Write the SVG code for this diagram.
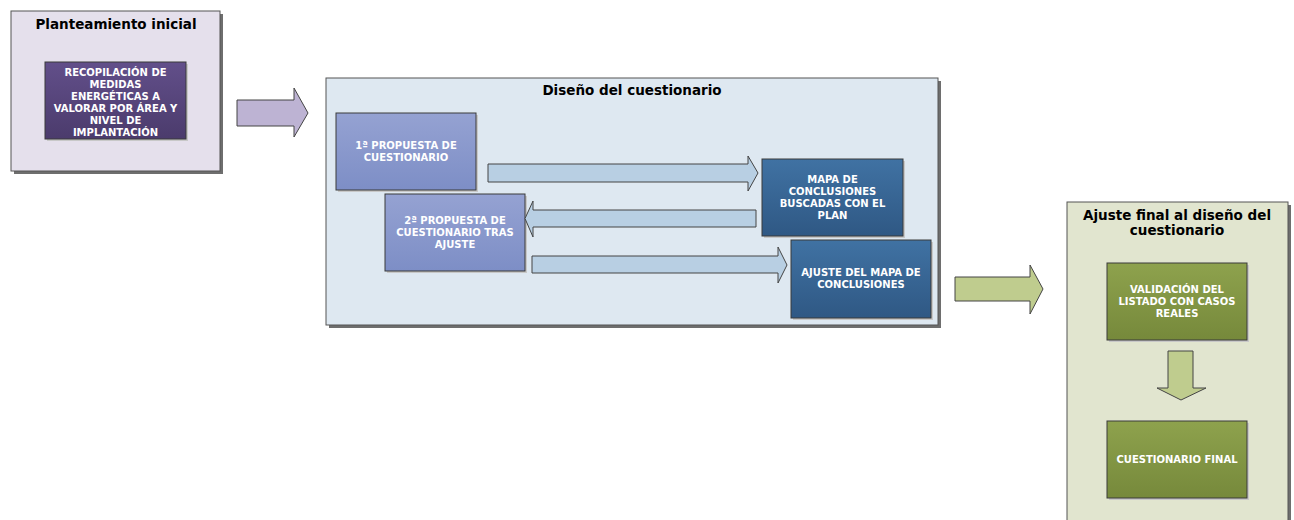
<svg xmlns="http://www.w3.org/2000/svg" width="1294" height="520" viewBox="0 0 1294 520">
<defs>
<linearGradient id="gPurple" x1="0" y1="0" x2="0" y2="1"><stop offset="0" stop-color="#624f8a"/><stop offset="1" stop-color="#4b3b6c"/></linearGradient>
<linearGradient id="gLight" x1="0" y1="0" x2="0" y2="1"><stop offset="0" stop-color="#95a2d2"/><stop offset="1" stop-color="#7d8ec6"/></linearGradient>
<linearGradient id="gDark" x1="0" y1="0" x2="0" y2="1"><stop offset="0" stop-color="#4072a3"/><stop offset="1" stop-color="#2f5884"/></linearGradient>
<linearGradient id="gGreen" x1="0" y1="0" x2="0" y2="1"><stop offset="0" stop-color="#8ea24d"/><stop offset="1" stop-color="#76893b"/></linearGradient>
</defs>
<style>
.cont{stroke:#555;stroke-width:1}
.csh{fill:#6e6e6e}
.node{stroke:#3a3a3a;stroke-width:1}
.nsh{fill:#c8c8c8}
.title{font-family:"DejaVu Sans",Verdana,sans-serif;font-weight:bold;font-size:13.5px;fill:#000;text-anchor:middle}
.nt{font-family:"DejaVu Sans",Verdana,sans-serif;font-weight:bold;font-size:10px;fill:#fff;text-anchor:middle}
.arr{stroke:#444;stroke-width:1}
</style>
<rect width="1294" height="520" fill="#fff"/>

<g id="planteamiento">
<rect class="csh" x="14" y="14" width="209" height="160"/>
<rect class="cont" x="11" y="11" width="209" height="160" fill="#e5e0ec"/>
<text class="title" x="116" y="29">Planteamiento inicial</text>
</g>
<g id="recopilacion">
<rect class="nsh" x="47" y="64" width="141" height="77"/>
<rect class="node" x="45" y="62" width="141" height="77" fill="url(#gPurple)"/>
<text class="nt" x="115.5" y="75.5">RECOPILACIÓN DE</text>
<text class="nt" x="115.5" y="87.5">MEDIDAS</text>
<text class="nt" x="115.5" y="99.5">ENERGÉTICAS A</text>
<text class="nt" x="115.5" y="111.5">VALORAR POR ÁREA Y</text>
<text class="nt" x="115.5" y="123.5">NIVEL DE</text>
<text class="nt" x="115.5" y="135.5">IMPLANTACIÓN</text>
</g>

<g id="diseno">
<rect class="csh" x="329" y="81" width="612" height="247"/>
<rect class="cont" x="326" y="78" width="612" height="247" fill="#dee8f1"/>
<text class="title" x="632" y="95">Diseño del cuestionario</text>
</g>
<g id="propuesta1">
<rect class="nsh" x="338" y="115" width="140" height="77"/>
<rect class="node" x="336" y="113" width="140" height="77" fill="url(#gLight)"/>
<text class="nt" x="406" y="148.5">1ª PROPUESTA DE</text>
<text class="nt" x="406" y="160.5">CUESTIONARIO</text>
</g>
<g id="propuesta2">
<rect class="nsh" x="387" y="196" width="140" height="77"/>
<rect class="node" x="385" y="194" width="140" height="77" fill="url(#gLight)"/>
<text class="nt" x="455" y="223.5">2ª PROPUESTA DE</text>
<text class="nt" x="455" y="235.5">CUESTIONARIO TRAS</text>
<text class="nt" x="455" y="247.5">AJUSTE</text>
</g>
<g id="mapa">
<rect class="nsh" x="764" y="161" width="141" height="77"/>
<rect class="node" x="762" y="159" width="141" height="77" fill="url(#gDark)"/>
<text class="nt" x="832.5" y="182.5">MAPA DE</text>
<text class="nt" x="832.5" y="194.5">CONCLUSIONES</text>
<text class="nt" x="832.5" y="206.5">BUSCADAS CON EL</text>
<text class="nt" x="832.5" y="218.5">PLAN</text>
</g>
<g id="ajusteMapa">
<rect class="nsh" x="793" y="242" width="140" height="78"/>
<rect class="node" x="791" y="240" width="140" height="78" fill="url(#gDark)"/>
<text class="nt" x="861" y="275.5">AJUSTE DEL MAPA DE</text>
<text class="nt" x="861" y="287.5">CONCLUSIONES</text>
</g>

<g id="ajusteFinal">
<rect class="csh" x="1070" y="205" width="221" height="330"/>
<rect class="cont" x="1067" y="202" width="221" height="330" fill="#e1e5cf"/>
<text class="title" x="1177" y="220">Ajuste final al diseño del</text>
<text class="title" x="1177" y="235">cuestionario</text>
</g>
<g id="validacion">
<rect class="nsh" x="1109" y="265" width="140" height="77"/>
<rect class="node" x="1107" y="263" width="140" height="77" fill="url(#gGreen)"/>
<text class="nt" x="1177" y="292.5">VALIDACIÓN DEL</text>
<text class="nt" x="1177" y="304.5">LISTADO CON CASOS</text>
<text class="nt" x="1177" y="316.5">REALES</text>
</g>
<g id="final">
<rect class="nsh" x="1109" y="423" width="140" height="77"/>
<rect class="node" x="1107" y="421" width="140" height="77" fill="url(#gGreen)"/>
<text class="nt" x="1177" y="463">CUESTIONARIO FINAL</text>
</g>

<g id="connectors">
<polygon class="arr" fill="#bdb3d3" points="237,100 294,100 294,88 308,113 294,137 294,126 237,126"/>
<polygon class="arr" fill="#b8cfe3" points="488,164 748,164 748,156 758,173 748,191 748,182 488,182"/>
<polygon class="arr" fill="#b8cfe3" points="756,210 533,210 533,201 525,218.5 533,237 533,227 756,227"/>
<polygon class="arr" fill="#b8cfe3" points="532,256 778,256 778,247 787,265 778,283 778,273 532,273"/>
<polygon class="arr" fill="#bfcc8e" points="955,277 1030,277 1030,265 1043,289 1030,314 1030,301 955,301"/>
<polygon class="arr" fill="#bfcc8e" points="1168,351 1193,351 1193,388 1206,388 1181,400 1157,388 1168,388"/>
</g>
</svg>
